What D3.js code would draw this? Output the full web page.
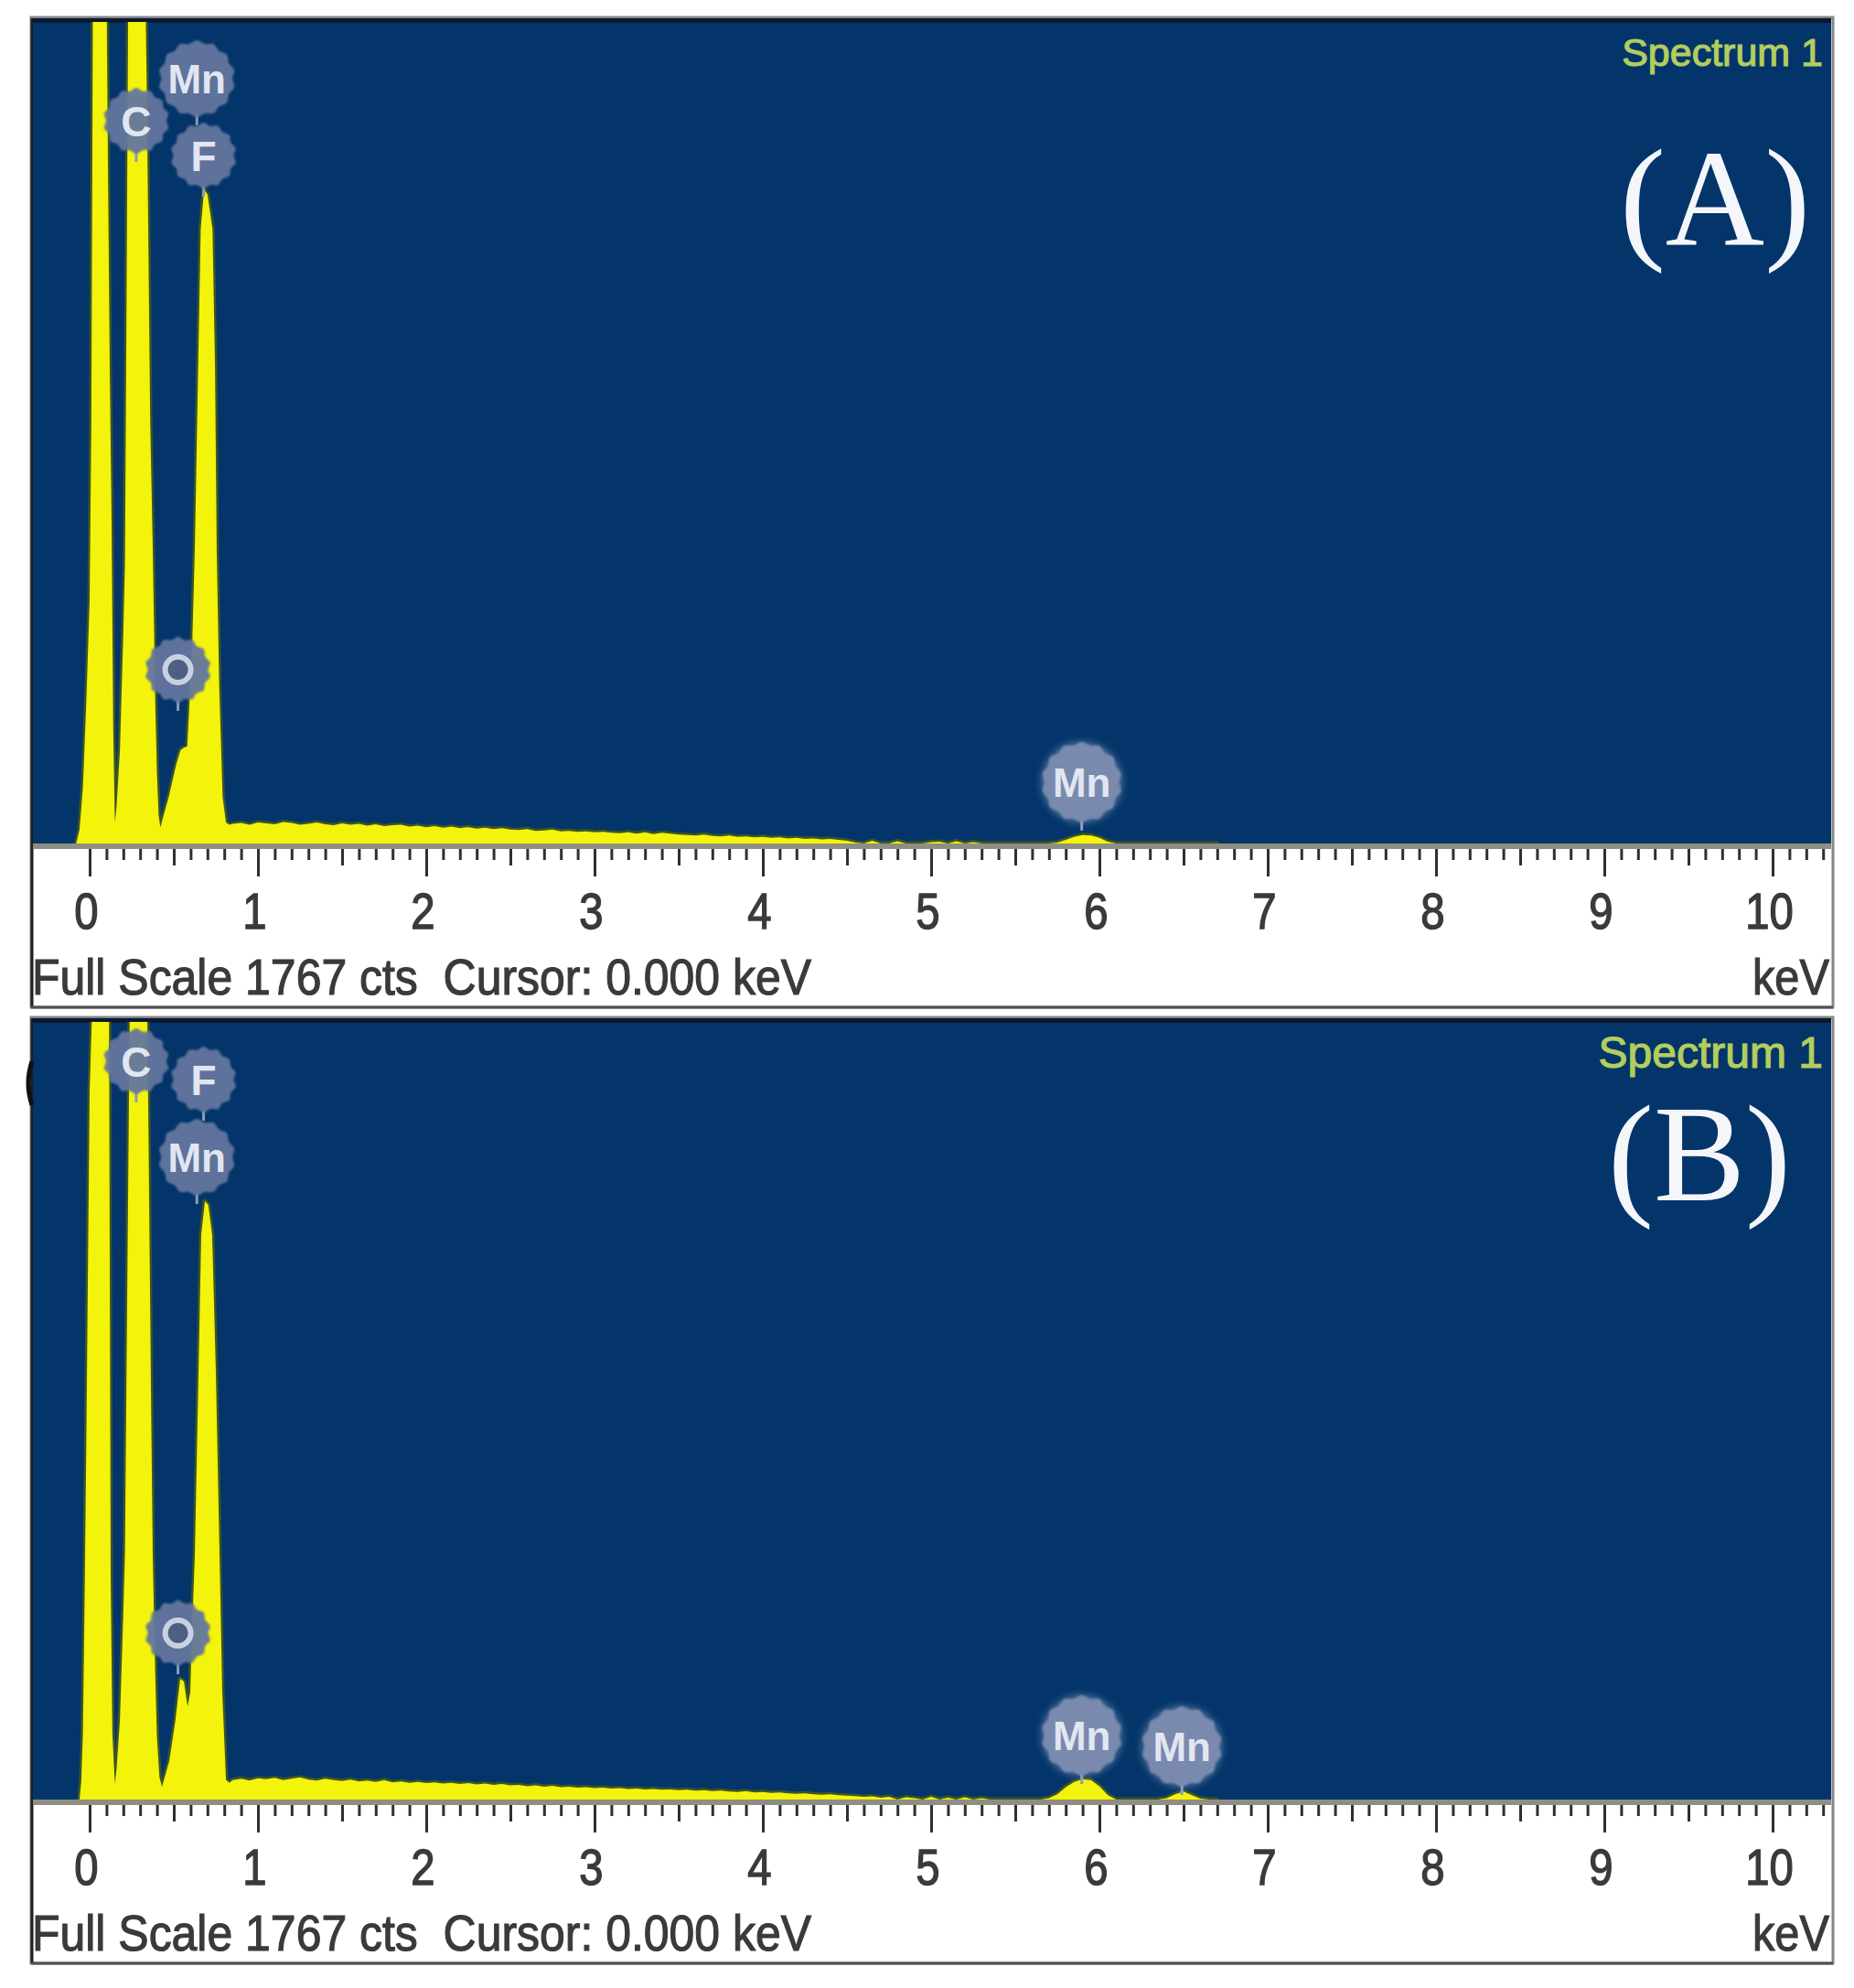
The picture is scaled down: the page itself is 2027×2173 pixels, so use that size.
<!DOCTYPE html>
<html><head><meta charset="utf-8">
<script src="https://cdn.jsdelivr.net/npm/d3@7"></script>
<style>html,body{margin:0;padding:0;background:#fff}</style>
</head><body>
<svg id="chart" width="2027" height="2173" xmlns="http://www.w3.org/2000/svg"></svg>
<script>
// ---------------- DATA ----------------
const fullScale = 1767;
const statusText = "Full Scale 1767 cts  Cursor: 0.000 keV";
const unitText = "keV";
const spectrumTitle = "Spectrum 1";
const panelNames = ["(A)", "(B)"];
const tickValues = [0,1,2,3,4,5,6,7,8,9,10];
const tickLabels = ["0","1","2","3","4","5","6","7","8","9","10"];

// low-energy peak region (keV, counts)
const peakEnergyA = [-0.08,-0.06,-0.04,-0.02,0.00,0.01,0.02,0.04,0.07,0.09,0.10,0.11,0.12,0.13,0.14,0.15,
  0.16,0.18,0.20,0.21,0.22,0.23,0.26,0.30,0.33,0.34,0.36,0.375,0.39,0.40,0.41,0.42,
  0.47,0.515,0.54,0.56,0.58,0.59,0.61,0.625,0.645,0.66,0.68,0.70,0.73,0.745,0.755,0.77,0.79,0.81,0.83];
const peakCountsA = [0,30,120,300,520,900,2000,4000,5000,3000,1900,1400,1000,700,250,45,
  80,200,450,600,1200,1900,3500,3500,2000,1600,900,630,300,150,60,35,
  100,170,200,205,208,276,433,630,1022,1316,1400,1390,1316,1022,630,335,100,45,40];

const peakEnergyB = [-0.06,-0.05,-0.04,-0.03,-0.02,0.00,0.02,0.05,0.08,0.10,0.115,0.125,0.135,0.15,
  0.16,0.18,0.20,0.21,0.22,0.24,0.27,0.31,0.34,0.35,0.365,0.375,0.39,0.40,0.415,0.43,
  0.473,0.51,0.538,0.56,0.582,0.598,0.609,0.625,0.647,0.663,0.685,0.705,0.728,0.75,0.772,0.788,0.81,0.83];
const peakCountsB = [0,40,150,450,800,1600,3000,5000,3500,2500,1800,500,150,35,
  70,180,420,560,1000,1900,3500,3400,2000,1500,900,550,280,140,50,29,
  87,180,273,267,211,242,387,552,966,1277,1353,1345,1277,966,552,242,45,38];

// background channels (keV)
const bgEnergy = [0.85,0.90,0.95,1.00,
  1.05,1.10,1.15,1.20,1.25,1.30,1.35,1.40,1.45,1.50,
  1.55,1.60,1.65,1.70,1.75,1.80,1.85,1.90,1.95,2.00,
  2.05,2.10,2.15,2.20,2.25,2.30,2.35,2.40,2.45,2.50,
  2.55,2.60,2.65,2.70,2.75,2.80,2.85,2.90,2.95,3.00,
  3.05,3.10,3.15,3.20,3.25,3.30,3.35,3.40,3.45,3.50,
  3.55,3.60,3.65,3.70,3.75,3.80,3.85,3.90,3.95,4.00,
  4.05,4.10,4.15,4.20,4.25,4.30,4.35,4.40,4.45,4.50,
  4.55,4.60,4.65,4.70,4.75,4.80,4.85,4.90,4.95,5.00,
  5.05,5.10,5.15,5.20,5.25,5.30,5.35,5.40,5.45,5.50,
  5.55,5.60,5.65,5.70,5.75,5.80,5.85,5.90,5.95,6.00,
  6.05,6.10,6.15,6.20,6.25,6.30,6.35,6.40,6.45,6.50,
  6.55,6.60,6.65,6.70];
const bgCountsA = [42,44,40,45,
  43,41,46,44,40,42,45,41,39,43,
  40,42,38,41,37,39,40,36,38,35,
  37,34,36,33,35,32,34,31,33,30,
  29,31,27,28,30,26,27,25,26,24,
  25,23,22,24,21,24,20,23,21,19,
  18,17,19,16,15,17,14,15,13,14,
  12,13,11,12,10,11,9,10,8,6,
  2,0,6,0,0,5,0,0,0,3,
  4,0,5,0,3,0,0,0,0,0,
  0,0,0,0,2,8,14,18,17,12,
  4,0,0,0,0,0,0,0,0,0,
  0,0,0,0];
const bgCountsB = [44,47,43,48,
  46,49,44,47,50,45,43,47,44,42,
  45,41,43,40,44,39,41,38,40,37,
  39,36,38,35,37,34,36,33,35,32,
  33,30,32,29,31,28,29,27,28,26,
  27,25,26,24,25,23,24,22,23,21,
  22,20,21,19,20,18,17,19,16,17,
  15,16,14,13,14,12,11,12,10,9,
  8,6,7,4,6,0,5,3,0,6,
  0,4,0,5,0,3,0,0,0,0,
  0,0,0,3,12,28,40,46,44,30,
  10,0,0,0,0,0,0,3,12,18,
  10,2,0,0];

// element markers
const markerElementsA = ["C","Mn","F","O","Mn"];
const markerEnergiesA = [0.277,0.637,0.677,0.525,5.895];
const markerElementsB = ["C","F","Mn","O","Mn","Mn"];
const markerEnergiesB = [0.277,0.677,0.637,0.525,5.895,6.490];

// ---------------- LAYOUT ----------------
const W = 2027, H = 2173;
const frameLeft = 34, frameRight = 2004;
const panels = [
  { top: 20, plotBottom: 922, bottom: 1101, name: panelNames[0], nameX: 1875, nameY: 267,
    titleSize: 43, titleY: 72,
    energy: peakEnergyA, counts: peakCountsA, bg: bgCountsA,
    mEl: markerElementsA, mE: markerEnergiesA, mY: [132, 86, 170, 732, 855] },
  { top: 1113, plotBottom: 1967, bottom: 2146, name: panelNames[1], nameX: 1858, nameY: 1312,
    titleSize: 48, titleY: 1167,
    energy: peakEnergyB, counts: peakCountsB, bg: bgCountsB,
    mEl: markerElementsB, mE: markerEnergiesB, mY: [1160, 1180, 1265, 1785, 1897, 1909] }
];

const svg = d3.select("#chart");
svg.append("rect").attr("width", W).attr("height", H).attr("fill", "#ffffff");
const defs = svg.append("defs");
const soft = defs.append("filter").attr("id", "soft").attr("x", "-20%").attr("y", "-20%").attr("width", "140%").attr("height", "140%");
soft.append("feGaussianBlur").attr("stdDeviation", 1.2);
const halo = defs.append("filter").attr("id", "halo").attr("x", "-50%").attr("y", "-50%").attr("width", "200%").attr("height", "200%");
halo.append("feGaussianBlur").attr("stdDeviation", 4);

const x = d3.scaleLinear().domain([0, 10]).range([98, 1938]);

function gearPath(r) {
  const n = 14, pts = [];
  for (let i = 0; i < n * 2; i++) pts.push([i * Math.PI / n, i % 2 ? r : r + 3]);
  return d3.lineRadial().curve(d3.curveCardinalClosed)(pts);
}

const axisFont = "Liberation Sans, Arial, sans-serif";
const axisInk = "#3a3a3a";

panels.forEach((p, pi) => {
  const g = svg.append("g");
  const y = d3.scaleLinear().domain([0, fullScale]).range([p.plotBottom, p.top]);

  // frame + white band
  g.append("rect").attr("x", frameLeft).attr("y", p.top - 1).attr("width", frameRight - frameLeft)
    .attr("height", p.bottom - p.top + 1).attr("fill", "#ffffff").attr("stroke", "#858585").attr("stroke-width", 3);
  g.append("line").attr("x1", frameLeft + 1).attr("x2", frameLeft + 1).attr("y1", p.top).attr("y2", p.bottom)
    .attr("stroke", "#1e1e1e").attr("stroke-width", 3);
  g.append("line").attr("x1", frameLeft).attr("x2", frameRight).attr("y1", p.bottom).attr("y2", p.bottom)
    .attr("stroke", "#505050").attr("stroke-width", 3);

  // blue plot area
  g.append("rect").attr("x", frameLeft + 2).attr("y", p.top).attr("width", frameRight - frameLeft - 4)
    .attr("height", p.plotBottom - p.top).attr("fill", "#03356a");
  g.append("rect").attr("x", frameLeft + 2).attr("y", p.top).attr("width", frameRight - frameLeft - 4)
    .attr("height", 5).attr("fill", "#0a1830");

  // clip
  const cid = "clip" + pi;
  defs.append("clipPath").attr("id", cid).append("rect")
    .attr("x", frameLeft + 2).attr("y", p.top + 4).attr("width", frameRight - frameLeft - 4)
    .attr("height", p.plotBottom - p.top - 4);

  const data = p.energy.map((e, i) => ({ e, c: p.counts[i] }))
    .concat(bgEnergy.map((e, i) => ({ e, c: p.bg[i] })));
  const area = d3.area().x(d => x(d.e)).y0(y(0)).y1(d => y(Math.min(d.c, fullScale * 1.05)));
  const sg = g.append("g").attr("clip-path", `url(#${cid})`);
  sg.append("path").datum(data).attr("d", area).attr("fill", "#3c5526").attr("stroke", "#3c5526")
    .attr("stroke-width", 5).attr("stroke-linejoin", "round");
  sg.append("path").datum(data).attr("d", area).attr("fill", "#f3f30c");

  // axis base line
  g.append("rect").attr("x", frameLeft + 2).attr("y", p.plotBottom).attr("width", frameRight - frameLeft - 4)
    .attr("height", 6).attr("fill", "#8e8e84");
  const axisY = p.plotBottom + 6;

  // minor and medium ticks
  const minorVals = d3.range(1, 104).map(i => i / 10).filter(v => Math.abs(v - Math.round(v)) > 1e-6);
  const medVals = minorVals.filter(v => Math.abs(v * 10 % 10 - 5) < 1e-6);
  const smallVals = minorVals.filter(v => Math.abs(v * 10 % 10 - 5) >= 1e-6);
  [[smallVals, 12], [medVals, 18]].forEach(([vals, len]) => {
    const ax = g.append("g").attr("transform", `translate(0,${axisY})`)
      .call(d3.axisBottom(x).tickValues(vals).tickSize(len).tickFormat(""));
    ax.select(".domain").remove();
    ax.selectAll("line").attr("stroke", "#2f2f2f").attr("stroke-width", 3);
  });
  const major = g.append("g").attr("transform", `translate(0,${axisY})`)
    .call(d3.axisBottom(x).tickValues(tickValues).tickSize(30).tickFormat((d, i) => tickLabels[i]));
  major.select(".domain").remove();
  major.selectAll("line").attr("stroke", "#2f2f2f").attr("stroke-width", 3);
  major.selectAll("text")
    .attr("y", 87).attr("dy", null).attr("x", -4 / 0.86)
    .attr("transform", "scale(0.86,1)")
    .attr("fill", axisInk).attr("stroke", axisInk).attr("stroke-width", 1.4)
    .attr("font-family", axisFont)
    .attr("font-size", 55);

  // status texts
  g.append("text").attr("x", 35).attr("y", p.plotBottom + 165)
    .attr("font-family", axisFont).attr("font-size", 56)
    .attr("fill", axisInk).attr("stroke", axisInk).attr("stroke-width", 1.2)
    .attr("textLength", 852).attr("lengthAdjust", "spacingAndGlyphs")
    .style("white-space", "pre").attr("xml:space", "preserve")
    .text(statusText);
  g.append("text").attr("x", 1916).attr("y", p.plotBottom + 165)
    .attr("font-family", axisFont).attr("font-size", 56)
    .attr("fill", axisInk).attr("stroke", axisInk).attr("stroke-width", 1.2)
    .attr("textLength", 84).attr("lengthAdjust", "spacingAndGlyphs")
    .text(unitText);

  // spectrum title
  g.append("text").attr("x", 1993).attr("y", p.titleY).attr("text-anchor", "end")
    .attr("font-family", axisFont).attr("font-size", p.titleSize)
    .attr("fill", "#b3cd5e").attr("stroke", "#b3cd5e").attr("stroke-width", 1.2)
    .text(spectrumTitle);

  // panel label
  g.append("text").attr("x", p.nameX).attr("y", p.nameY).attr("text-anchor", "middle")
    .attr("font-family", "Liberation Serif, Times New Roman, serif").attr("font-size", 150)
    .attr("fill", "#f5f6fa").text(p.name);

  // element markers
  p.mEl.forEach((el, i) => {
    const e = p.mE[i];
    const cx = x(e), cy = p.mY[i];
    const hi = e > 2;
    const r = el === "Mn" ? (hi ? 41 : 39) : 33;
    const mg = g.append("g").attr("transform", `translate(${cx},${cy})`);
    mg.append("line").attr("x1", 0).attr("x2", 0).attr("y1", r).attr("y2", r + 12)
      .attr("stroke", "#8d9bbb").attr("stroke-width", 3);
    if (hi) {
      mg.append("circle").attr("r", r + 3).attr("fill", "#b7c2da").attr("opacity", 0.45).attr("filter", "url(#halo)");
    }
    mg.append("path").attr("d", gearPath(r)).attr("fill", hi ? "#7d8cb0" : "#63769e")
      .attr("opacity", 0.95).attr("filter", "url(#soft)");
    if (el === "O") {
      mg.append("circle").attr("r", 14).attr("fill", "#4e5f82").attr("stroke", "#c9d0e2").attr("stroke-width", 6);
    } else {
      mg.append("text").attr("text-anchor", "middle").attr("dy", "0.36em")
        .attr("font-family", axisFont).attr("font-weight", "bold")
        .attr("font-size", el === "Mn" ? 44 : 46).attr("fill", "#e1e6f0").text(el);
    }
  });
});

// small dark mark at the left edge of panel B
svg.append("path").attr("d", "M 35 1160 Q 27 1184 35 1208").attr("fill", "none")
  .attr("stroke", "#111").attr("stroke-width", 5);
</script>
</body></html>
